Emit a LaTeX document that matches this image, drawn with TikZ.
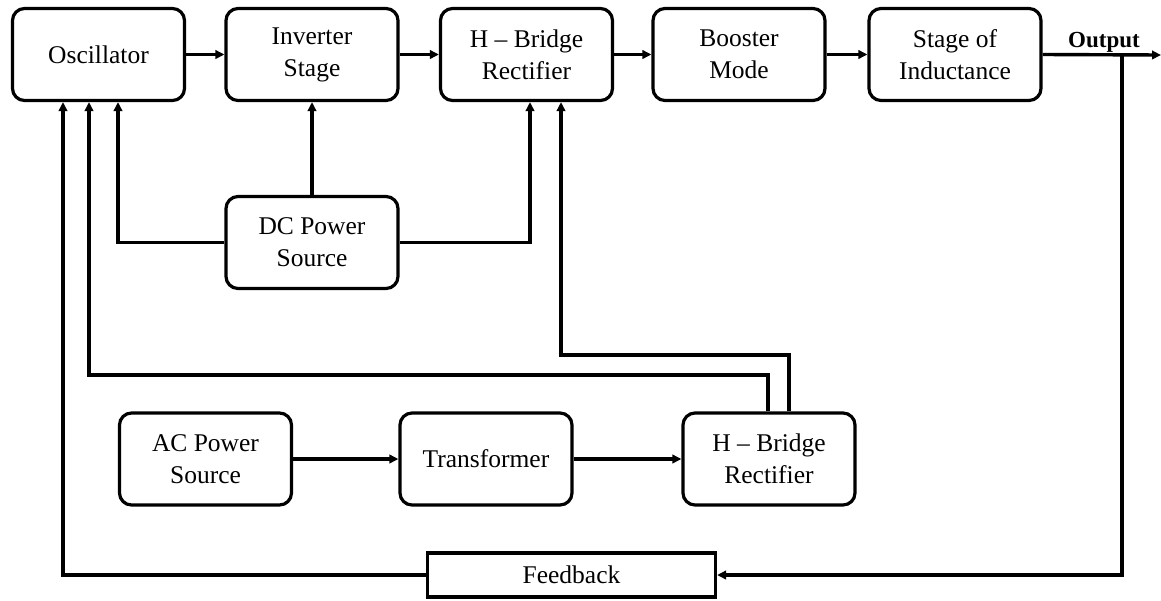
\documentclass[tikz,border=0pt]{standalone}
\usepackage{fontspec}
\setmainfont{Liberation Serif}
\usetikzlibrary{arrows.meta}
\begin{document}
\begin{tikzpicture}[x=1pt,y=-1pt,
  blk/.style={draw, line width=3.2pt, rounded corners=12pt,
    minimum width=172pt, minimum height=92pt, inner sep=0pt,
    align=center, font=\fontsize{25.5}{32}\selectfont},
  fbk/.style={draw, line width=3.2pt, minimum width=288pt,
    minimum height=44pt, inner sep=0pt,
    font=\fontsize{25.5}{32}\selectfont},
  wire/.style={line width=3.4pt},
  flow/.style={wire, -{Triangle[length=9pt,width=8.5pt]}}]
\useasboundingbox (0,0) rectangle (1161,600);

% main chain
\node[blk] (osc) at (98.5,54.5) {Oscillator};
\node[blk] (inv) at (312,54.5) {Inverter\\Stage};
\node[blk] (hb1) at (526.5,54.5) {H -- Bridge\\Rectifier};
\node[blk] (bst) at (739,54.5) {Booster\\Mode};
\node[blk] (ind) at (955,54.5) {Stage of\\Inductance};

% supplies
\node[blk] (dc) at (312,242.5) {DC Power\\Source};
\node[blk] (ac) at (205.5,459) {AC Power\\Source};
\node[blk] (trf) at (486,459) {Transformer};
\node[blk] (hb2) at (769,459) {H -- Bridge\\Rectifier};

% feedback path
\node[fbk] (fb) at (571.5,575) {Feedback};
\node[font=\bfseries\fontsize{23}{28}\selectfont, anchor=base, inner sep=0pt]
  (outlbl) at (1104,47) {Output};
\coordinate (out) at (1161,55);
\coordinate (tap) at (1122,55);

% wire columns and rows
\coordinate (c63) at (63,0);
\coordinate (c89) at (89,0);
\coordinate (c118) at (118,0);
\coordinate (c530) at (530,0);
\coordinate (c561) at (561,0);
\coordinate (c768) at (768,0);
\coordinate (c789) at (789,0);
\coordinate (r355) at (0,355);
\coordinate (r375) at (0,375);

\draw[flow] (osc) -- (inv);
\draw[flow] (inv) -- (hb1);
\draw[flow] (hb1) -- (bst);
\draw[flow] (bst) -- (ind);
\draw[flow] (ind.east) -- (out);
\draw[flow] (tap) |- (fb.east);
\draw[flow] (fb.west) -| (c63 |- osc.south);

\draw[flow] (dc.north) -- (inv.south);
\draw[flow] (dc.west) -| (c118 |- osc.south);
\draw[flow] (dc.east) -| (c530 |- hb1.south);

\draw[flow] (c768 |- hb2.north) -- (c768 |- r375) -- (c89 |- r375) -- (c89 |- osc.south);
\draw[flow] (c789 |- hb2.north) -- (c789 |- r355) -- (c561 |- r355) -- (c561 |- hb1.south);

\draw[flow] (ac) -- (trf);
\draw[flow] (trf) -- (hb2);
\end{tikzpicture}
\end{document}
